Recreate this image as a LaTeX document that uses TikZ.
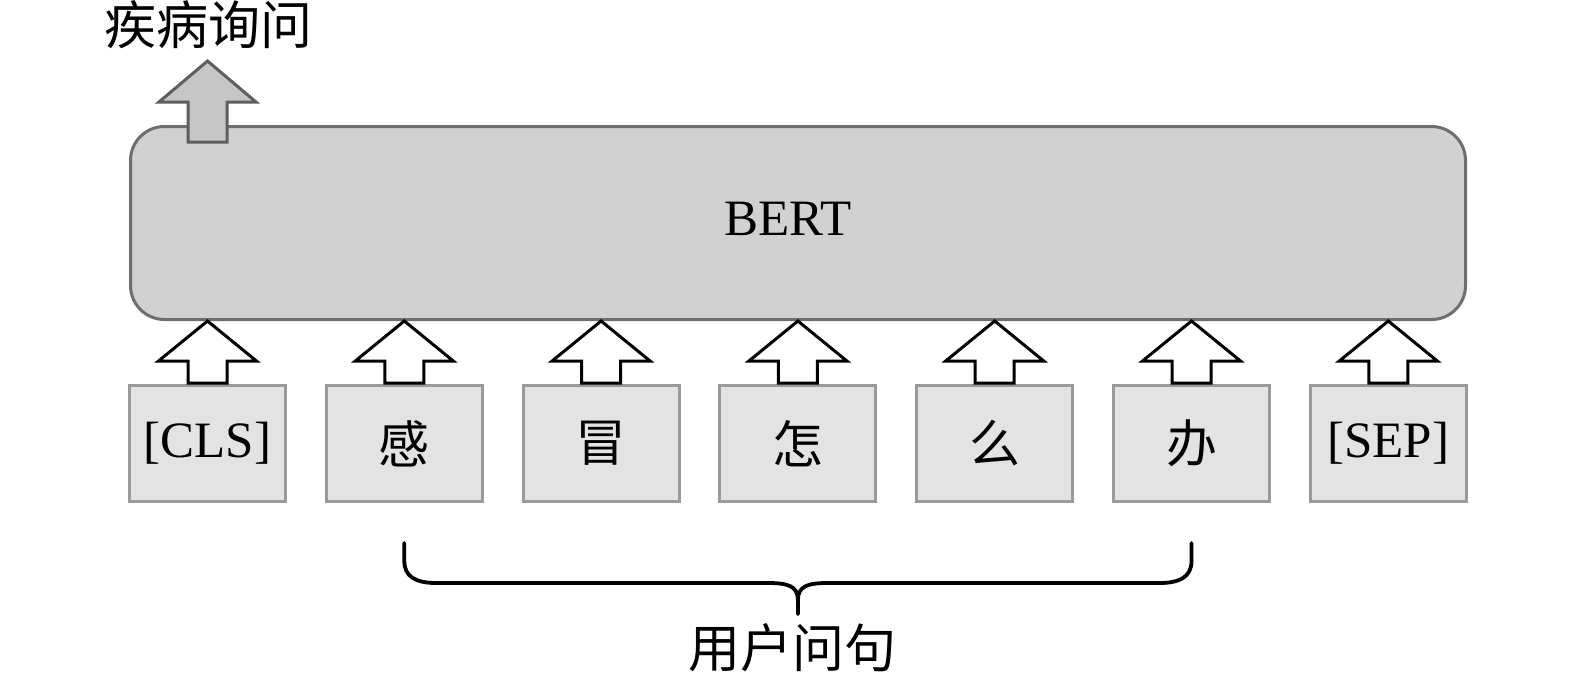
\documentclass[tikz,border=0pt]{standalone}
\usepackage{fontspec}
\setmainfont{Liberation Serif}
\newfontfamily\cjk{Noto Sans CJK SC}
\usetikzlibrary{positioning,calc}
\usepackage{xcolor}
\definecolor{bertfill}{HTML}{D1D1D1}
\definecolor{bertline}{HTML}{6E6E6E}
\definecolor{tokfill}{HTML}{E3E3E3}
\definecolor{tokline}{HTML}{9A9A9A}
\definecolor{outfill}{HTML}{C6C6C6}
\definecolor{outline}{HTML}{5E5E5E}
\tikzset{
  bigtext/.style={font=\fontsize{25.5}{30}\selectfont},
  cjktext/.style={font=\cjk\fontsize{26}{30}\selectfont},
  bertbox/.style={draw=bertline, fill=bertfill, line width=1.5pt, rounded corners=17pt,
    minimum width=667.5pt, minimum height=96.5pt, inner sep=0pt, bigtext},
  tokbox/.style={draw=tokline, fill=tokfill, line width=1.5pt,
    minimum width=78pt, minimum height=58pt, inner sep=0pt, bigtext},
  hollowarrow/.style={draw=black, fill=white, line width=1.5pt, line join=miter},
  outarrow/.style={draw=outline, fill=outfill, line width=1.5pt, line join=miter},
  bracestyle/.style={draw=black, line width=1.9pt, line cap=round}
}

\begin{document}
\begin{tikzpicture}[x=0.5pt,y=-0.5pt]
\useasboundingbox (0,0) rectangle (1575,682);

\node[bertbox] (bert) at (798,223) {};
\node[bigtext] (berttext) at (788,219) {BERT};

\foreach \i/\w in {1/{[CLS]},2/{\cjk 感},3/{\cjk 冒},4/{\cjk 怎},5/{\cjk 么},6/{\cjk 办},7/{[SEP]}}
{
  \node[tokbox] (t\i) at ({207.5+(\i-1)*196.8},443.5) {\w};
  \draw[hollowarrow] ($(t\i.north)+(-19.5,-1)$) -- ++(0,-22) -- ++(-29.5,0)
    -- (t\i.north |- bert.south) -- ($(t\i.north)+(49,-23)$) -- ++(-29.5,0)
    -- ($(t\i.north)+(19.5,-1)$) -- cycle;
}

\coordinate (outbase) at (t1.center |- bert.north);
\draw[outarrow] ($(outbase)+(-19.5,17)$) -- ++(0,-40) -- ++(-29,0)
  -- ($(outbase)+(0,-64)$) -- ($(outbase)+(48.5,-23)$) -- ++(-29,0)
  -- ($(outbase)+(19.5,17)$) -- cycle;
\node[cjktext] (ask) at (208,25) {疾病询问};

\coordinate (bl) at ($(t2.south)+(0,40)$);
\coordinate (br) at ($(t6.south)+(0,40)$);
\coordinate (bm) at ($(bl)!0.5!(br)+(0,71)$);
\draw[bracestyle] (bl) -- ++(0,18) .. controls +(0,16) and +(-20,0) .. ++(32,22)
  -- ($(bm)+(-30,-31)$) .. controls +(20,0) and +(0,-14) .. ($(bm)+(0,-14)$) -- (bm);
\draw[bracestyle] (br) -- ++(0,18) .. controls +(0,16) and +(20,0) .. ++(-32,22)
  -- ($(bm)+(30,-31)$) .. controls +(-20,0) and +(0,-14) .. ($(bm)+(0,-14)$);
\node[cjktext] (query) at (792,648) {用户问句};
\end{tikzpicture}
\end{document}
